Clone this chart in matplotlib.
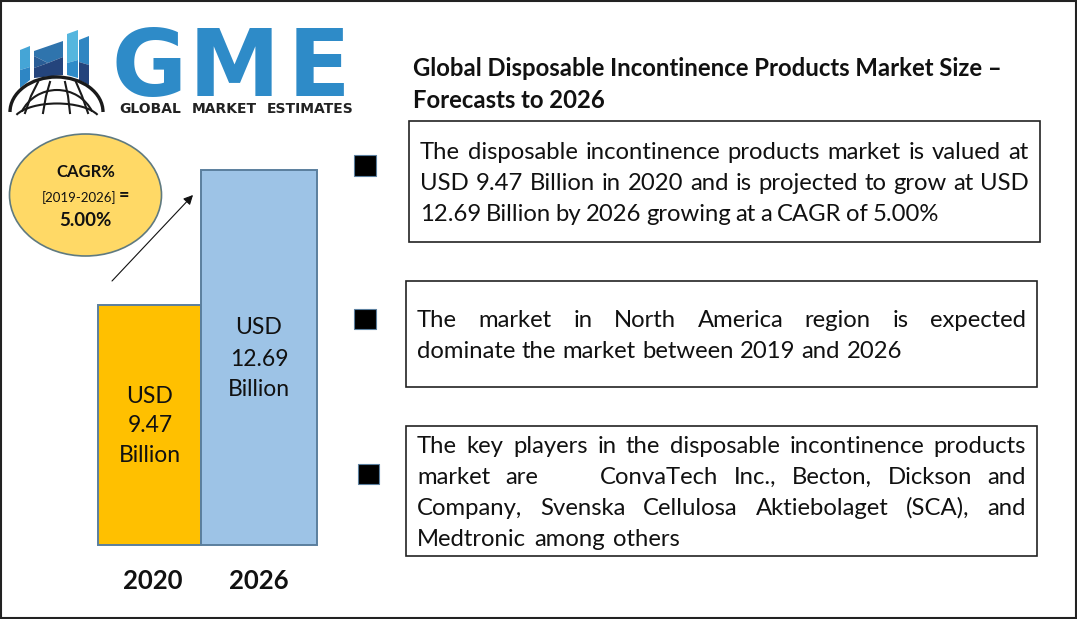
import matplotlib
matplotlib.use("Agg")
from matplotlib import pyplot as plt
from matplotlib.patches import Ellipse, Polygon, Rectangle, Arc

W, H = 1077, 619

years = ["2020", "2026"]
market_size = [9.47, 12.69]
bar_labels = [["USD", "9.47", "Billion"], ["USD", "12.69", "Billion"]]

title_lines = ["Global Disposable Incontinence Products Market Size –", "Forecasts to 2026"]
para1 = ["The disposable incontinence products market is valued at",
         "USD 9.47 Billion in 2020 and is projected to grow at USD",
         "12.69 Billion by 2026 growing at a CAGR of 5.00%"]
para2 = ["The market in North America region is expected",
         "dominate the market between 2019 and 2026"]
para3 = ["The key players in the disposable incontinence products",
         "market are    ConvaTech Inc., Becton, Dickson and",
         "Company, Svenska Cellulosa Aktiebolaget (SCA), and",
         "Medtronic among others"]

plt.rcParams['font.family'] = ['Lato', 'DejaVu Sans']
FS = 17.2
BLUE = "#2e8bc8"
EDGE = "#5b7f9e"
DARK = "#1a1a1a"

fig = plt.figure(figsize=(W / 100, H / 100), dpi=100)
# whole picture in pixel coordinates, y going down
ax = fig.add_axes([0, 0, 1, 1])
ax.set_xlim(0, W)
ax.set_ylim(H, 0)
ax.axis("off")
ax.set_zorder(2)
ax.add_patch(Rectangle((1, 1), W - 2, H - 2, fill=False, ec="#222222", lw=1.5))


def justified(lines, x0, x1, y_first, pitch, last_end):
    # spread the words of each line between x0 and x1, last line ends at last_end
    r = fig.canvas.get_renderer()
    for n, line in enumerate(lines):
        right = last_end if n == len(lines) - 1 else x1
        tokens = line.split(" ")
        items = []
        widths = []
        for w in tokens:
            if w == "":
                items.append(None)
                widths.append(0)
                continue
            t = ax.text(x0, y_first + n * pitch, w, fontsize=FS, color="#111111", va="baseline")
            items.append(t)
            widths.append(t.get_window_extent(r).width)
        gap = (right - x0 - sum(widths)) / (len(tokens) - 1)
        x = x0
        for t, w in zip(items, widths):
            if t is not None:
                t.set_x(x)
            x += w + gap


# logo
for pts, col in [
    ([(20, 50), (30, 46), (30, 67), (20, 70)], "#45a5d6"),
    ([(20, 70), (30, 67), (30, 80), (20, 88)], "#2e86c4"),
    ([(34, 51), (63, 41), (63, 57), (48, 63), (34, 56)], "#2f74ad"),
    ([(34, 56), (48, 63), (34, 68)], "#2a5d96"),
    ([(48, 63), (63, 57), (63, 75), (34, 78), (34, 68)], "#24447c"),
    ([(67, 34), (78, 30), (78, 60), (67, 63)], "#55b6de"),
    ([(67, 63), (78, 60), (78, 78), (67, 75)], "#2e8bc8"),
    ([(79, 40), (89, 36), (89, 65), (79, 62)], "#2f86c2"),
    ([(79, 62), (89, 65), (89, 85), (79, 80)], "#24447c"),
]:
    ax.add_patch(Polygon(pts, closed=True, fc=col, ec="none"))
ax.add_patch(Arc((56.5, 112), 93, 70, theta1=180, theta2=360, ec=DARK, lw=2.4))
ax.add_patch(Arc((57, 128), 78, 76, theta1=205, theta2=335, ec=DARK, lw=1.5))
ax.add_patch(Arc((57, 122), 88, 37, theta1=190, theta2=350, ec=DARK, lw=1.5))
for top, mid, bottom in [(38, 31, 25), (50, 46, 43), (65, 68, 70), (76, 82, 88)]:
    ax.plot([top, mid, bottom], [82, 96, 113], color=DARK, lw=1.5)
for x, letter in [(111, "G"), (189, "M"), (288, "E")]:
    ax.text(x, 96, letter, fontsize=66, fontweight="bold", color=BLUE,
            family="DejaVu Sans", va="baseline")
for x, word in [(119, "GLOBAL"), (192, "MARKET"), (267, "ESTIMATES")]:
    ax.text(x, 113, word, fontsize=10, fontweight="bold", color="#222222", family="DejaVu Sans", va="baseline")

# CAGR bubble
ax.add_patch(Ellipse((85.5, 195), 152, 122, fc="#ffd966", ec="#5f7a80", lw=1.2))
ax.text(85.5, 177, "CAGR%", fontsize=12, fontweight="bold", ha="center", va="baseline", color="#111111")
ax.text(79, 202, "[2019-2026]", fontsize=9.5, ha="center", va="baseline", color="#111111")
ax.text(123.5, 201, "=", fontsize=13, fontweight="bold", ha="center", va="baseline", color="#111111")
ax.text(85.5, 226, "5.00%", fontsize=13.5, fontweight="bold", ha="center", va="baseline", color="#111111")
ax.annotate("", xy=(193, 195), xytext=(112, 281),
            arrowprops=dict(arrowstyle="-|>", color="#111111", lw=0.8, mutation_scale=14,
                            shrinkA=0, shrinkB=0))

# bars, the baseline is not zero in the original
bar_left = [98, 201]
bar_width = [103, 116]
base = 3.746
colors = ["#ffc000", "#9dc3e6"]
bx = fig.add_axes([0, (H - 545) / H, 1, 375 / H])
bx.set_xlim(0, W)
bx.set_ylim(base, market_size[1])
bx.axis("off")
for i in range(2):
    bx.bar(bar_left[i], market_size[i] - base, width=bar_width[i], bottom=base, align="edge",
           color=colors[i], edgecolor=EDGE, linewidth=1.4, clip_on=False)

for x, ys, lab in [(150, (403, 432, 462), bar_labels[0]), (259, (334, 366, 396), bar_labels[1])]:
    for y, s in zip(ys, lab):
        ax.text(x, y, s, fontsize=16.5, ha="center", va="baseline", color="#111111")
for x, y in zip((152.5, 258.5), years):
    ax.text(x, 589, y, fontsize=18.5, fontweight="bold", ha="center", va="baseline", color="#111111")

# title and text boxes
for n, s in enumerate(title_lines):
    ax.text(413, 76.5 + n * 31, s, fontsize=17.2, fontweight="bold", va="baseline", color="#111111")
for (x0, y0, x1, y1) in [(409, 121, 1040, 242), (406, 281, 1037, 387), (406, 426, 1037, 556)]:
    ax.add_patch(Rectangle((x0, y0), x1 - x0, y1 - y0, fc="white", ec="#222222", lw=1.2))
justified(para1, 420, 1029, 159, 31, 939)
justified(para2, 417, 1026, 327, 31, 902)
justified(para3, 417, 1026, 453, 31, 680)

for x0, y0, x1, y1 in [(354, 155, 376, 176), (354, 309, 376, 329), (358, 464, 379, 484)]:
    ax.add_patch(Rectangle((x0, y0), x1 - x0, y1 - y0, fc="black", ec=EDGE, lw=0.8))

fig.savefig("out.png", dpi=100)
